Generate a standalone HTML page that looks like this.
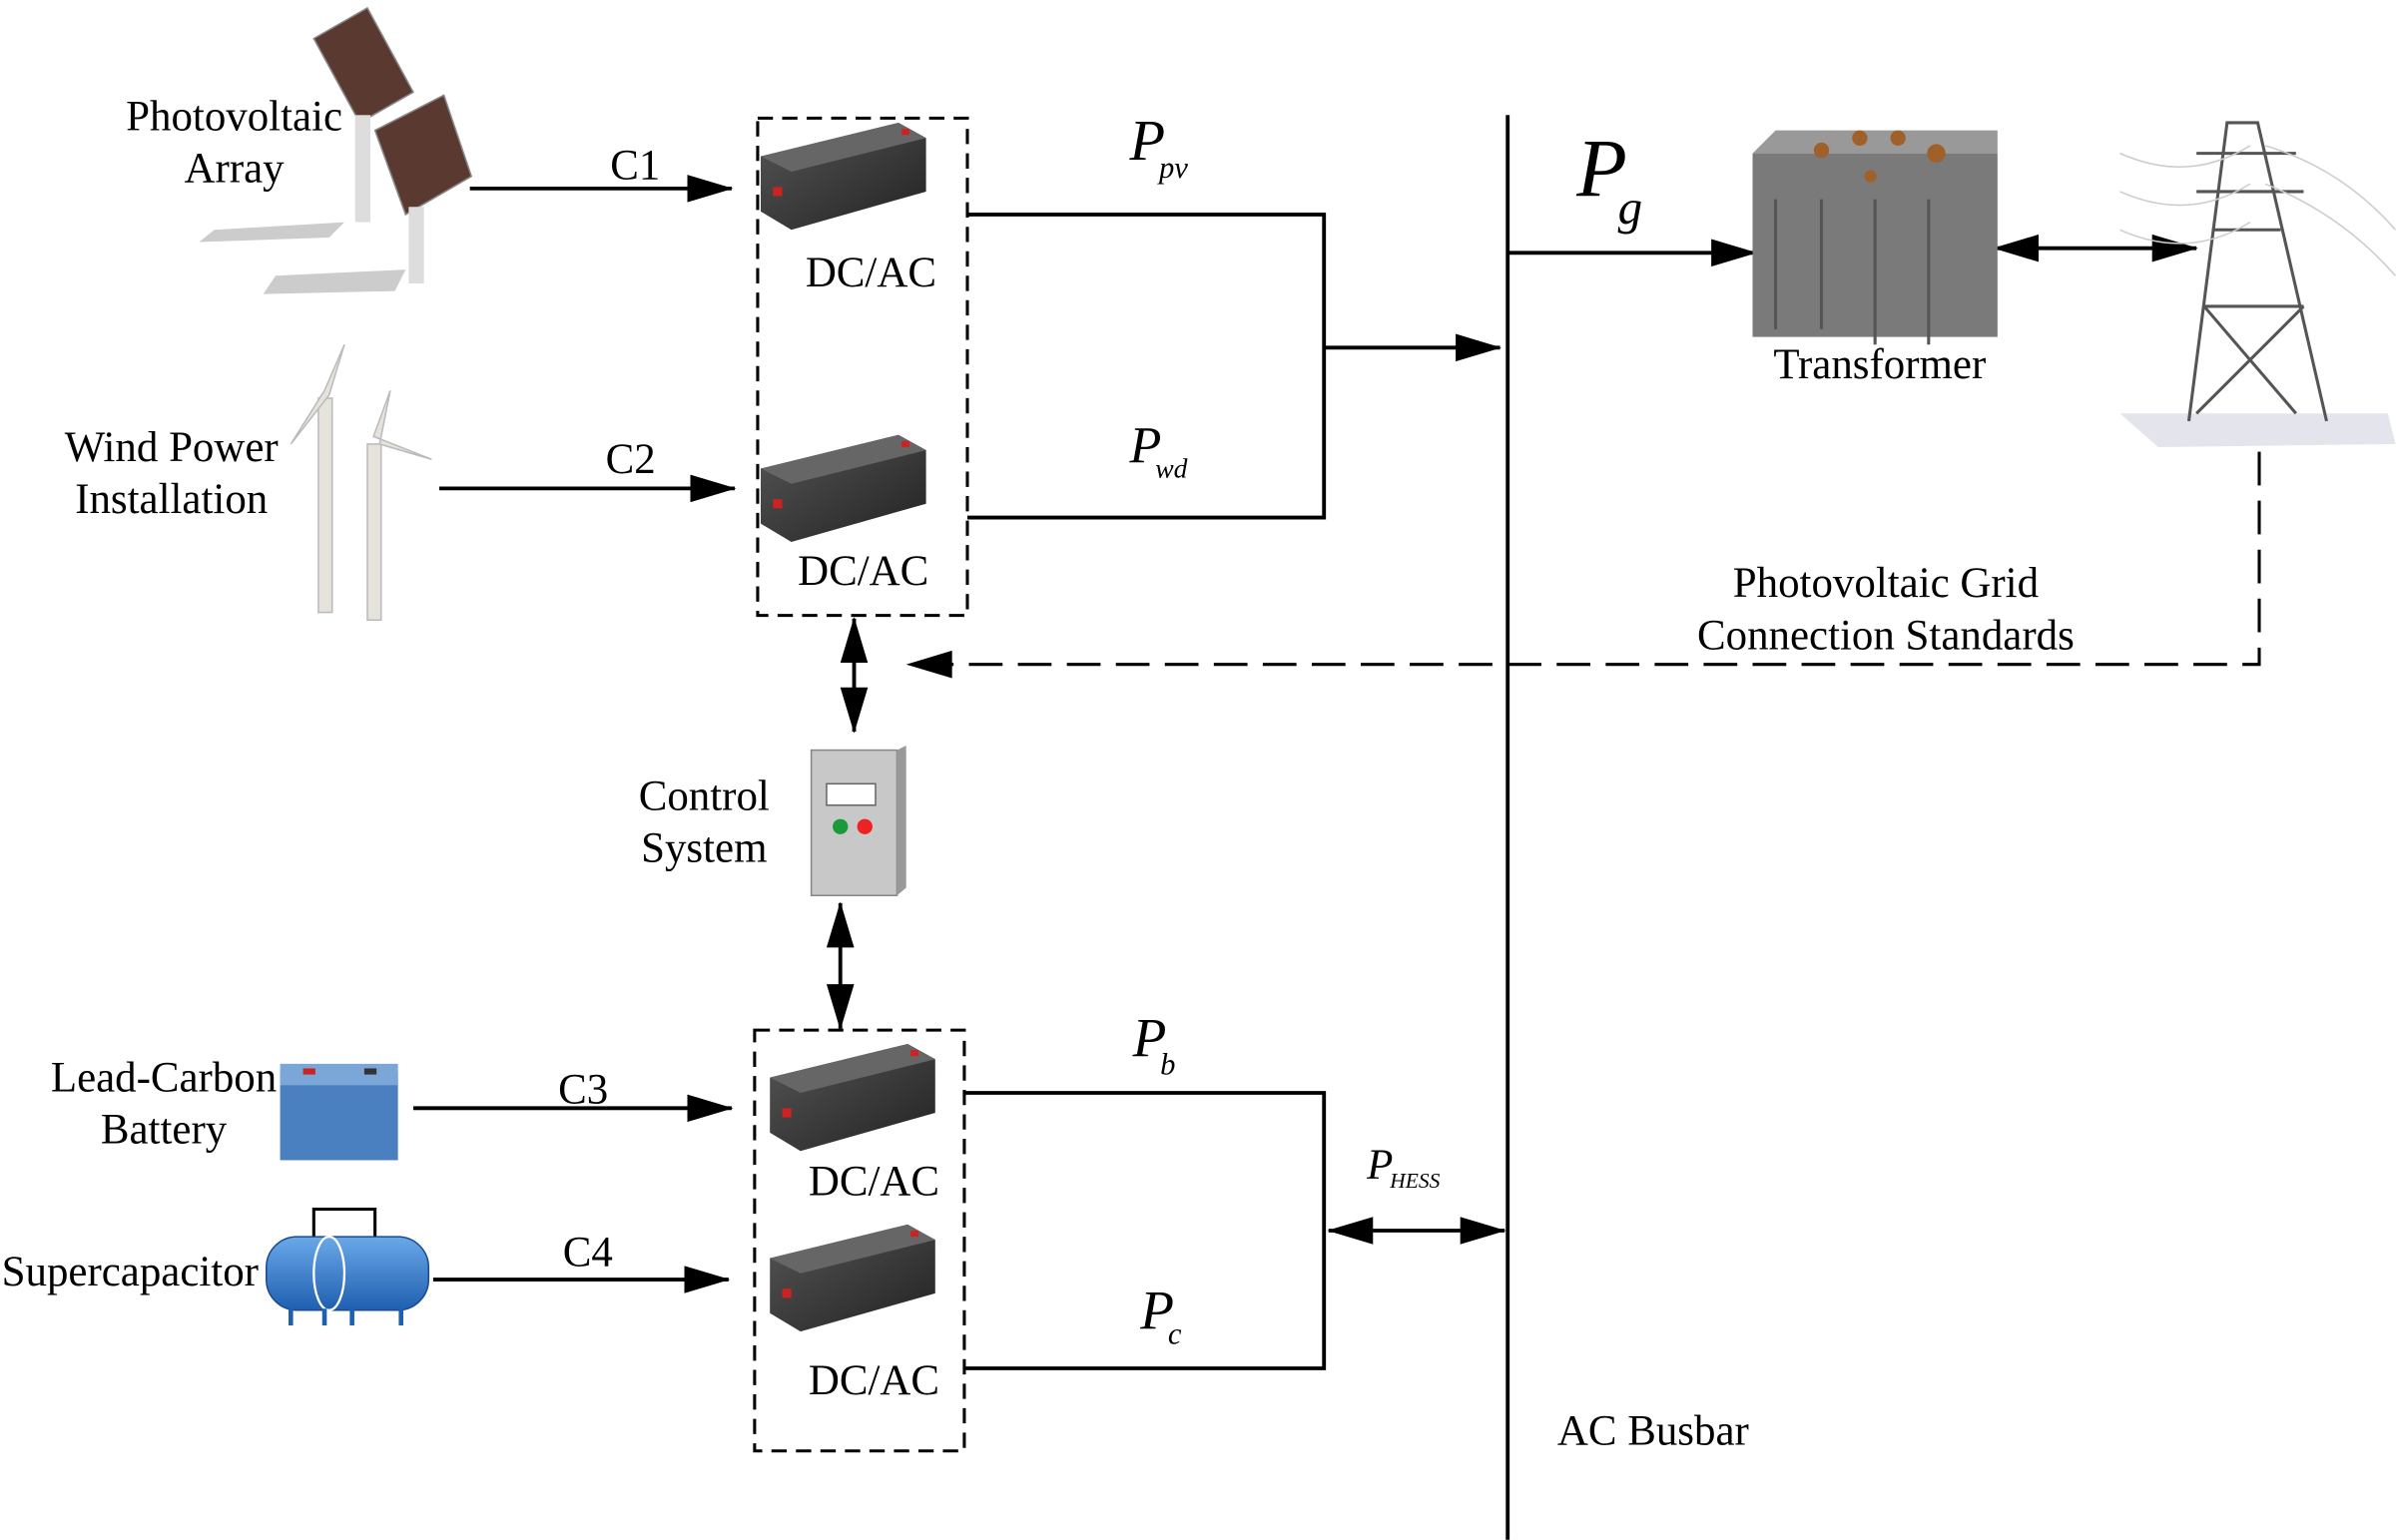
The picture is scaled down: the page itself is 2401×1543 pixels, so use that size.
<!DOCTYPE html>
<html><head><meta charset="utf-8"><style>
html,body{margin:0;padding:0;background:#fff;}
svg{display:block;}
text{font-family:"Liberation Serif",serif;fill:#000;}
</style></head><body>
<svg width="2401" height="1543" viewBox="0 0 1566 1006" xmlns="http://www.w3.org/2000/svg">
<defs>
<marker id="A" markerWidth="30" markerHeight="18" refX="29" refY="9" orient="auto-start-reverse" markerUnits="userSpaceOnUse"><path d="M0,0 L30,9 L0,18 z" fill="#000"/></marker>
<linearGradient id="inv" x1="0" y1="0" x2="1" y2="1"><stop offset="0" stop-color="#555"/><stop offset="1" stop-color="#222"/></linearGradient>
<linearGradient id="cyl" x1="0" y1="0" x2="0" y2="1"><stop offset="0" stop-color="#6aa8e8"/><stop offset="1" stop-color="#1f5fb0"/></linearGradient>
<g id="invg"><path d="M0,22 L90,0 L108,10 L108,45 L20,70 L0,58 z" fill="url(#inv)"/><path d="M0,22 L90,0 L108,10 L20,32 z" fill="#666"/><rect x="8" y="42" width="6" height="6" fill="#c22"/><rect x="92" y="4" width="5" height="4" fill="#c22"/></g>
</defs>
<g stroke="#000" stroke-width="2.5" fill="none">
<line x1="985" y1="75" x2="985" y2="1006"/>
<rect x="495" y="77" width="137" height="325" stroke-dasharray="10,6" stroke-width="2"/>
<rect x="493" y="673" width="137" height="275" stroke-dasharray="10,6" stroke-width="2"/>
<polyline points="632,140 865,140 865,338 632,338"/>
<polyline points="630,714 865,714 865,894 630,894"/>
<line x1="307" y1="123" x2="478" y2="123" marker-end="url(#A)"/>
<line x1="287" y1="319" x2="480" y2="319" marker-end="url(#A)"/>
<line x1="270" y1="724" x2="478" y2="724" marker-end="url(#A)"/>
<line x1="283" y1="836" x2="476" y2="836" marker-end="url(#A)"/>
<line x1="865" y1="227" x2="980" y2="227" marker-end="url(#A)"/>
<line x1="868" y1="804" x2="983" y2="804" marker-start="url(#A)" marker-end="url(#A)"/>
<line x1="985" y1="165" x2="1147" y2="165" marker-end="url(#A)"/>
<line x1="1303" y1="162" x2="1435" y2="162" marker-start="url(#A)" marker-end="url(#A)"/>
<line x1="558" y1="404" x2="558" y2="478" marker-start="url(#A)" marker-end="url(#A)"/>
<line x1="549" y1="590" x2="549" y2="672" marker-start="url(#A)" marker-end="url(#A)"/>
<polyline points="1476,295 1476,434 598,434" stroke-dasharray="22,10" stroke-width="2"/>
</g>
<path d="M592,434 L622,425 L622,443 z" fill="#000"/>
<use href="#invg" x="497" y="80"/>
<use href="#invg" x="497" y="284"/>
<use href="#invg" x="503" y="682"/>
<use href="#invg" x="503" y="800"/>
<g><path d="M205,25 L240,5 L270,60 L235,80 z" fill="#5a3a30" stroke="#888"/><path d="M245,85 L290,62 L308,115 L265,140 z" fill="#5a3a30" stroke="#888"/>
<rect x="232" y="75" width="10" height="70" fill="#ddd"/><rect x="267" y="135" width="10" height="50" fill="#ddd"/>
<path d="M140,150 L225,145 L215,155 L130,158z" fill="#ccc"/><path d="M180,180 L265,176 L258,190 L172,192z" fill="#ccc"/></g>
<g fill="#e6e2dc" stroke="#bbb"><rect x="208" y="260" width="9" height="140"/><rect x="240" y="290" width="9" height="115"/>
<path d="M212,255 L225,225 L215,258 L190,290z" /><path d="M244,285 L255,255 L248,290 L282,300z"/></g>
<rect x="183" y="700" width="77" height="58" fill="#4a7fc0"/><rect x="183" y="695" width="77" height="14" fill="#7aa6d8"/><rect x="198" y="698" width="8" height="4" fill="#c22"/><rect x="238" y="698" width="8" height="4" fill="#333"/>
<rect x="205" y="790" width="40" height="22" fill="none" stroke="#000" stroke-width="2"/>
<rect x="174" y="808" width="106" height="48" rx="20" fill="url(#cyl)" stroke="#1a4a90"/>
<ellipse cx="215" cy="832" rx="10" ry="24" fill="none" stroke="#fff" stroke-width="1.5"/>
<g stroke="#1f5fb0" stroke-width="3"><line x1="190" y1="855" x2="190" y2="866"/><line x1="212" y1="855" x2="212" y2="866"/><line x1="230" y1="855" x2="230" y2="866"/><line x1="262" y1="855" x2="262" y2="866"/></g>
<rect x="530" y="490" width="56" height="95" fill="#c8c8c8" stroke="#888"/><path d="M586,490 L592,487 L592,580 L586,585z" fill="#999"/>
<rect x="540" y="512" width="32" height="14" fill="#fff" stroke="#666"/>
<circle cx="549" cy="540" r="5" fill="#1a9a3a"/><circle cx="565" cy="540" r="5" fill="#e22"/>
<rect x="1145" y="100" width="160" height="120" fill="#7a7a7a"/><path d="M1145,100 L1160,85 L1305,85 L1305,100z" fill="#999"/>
<g fill="#a0602a"><circle cx="1190" cy="98" r="5"/><circle cx="1215" cy="90" r="5"/><circle cx="1240" cy="90" r="5"/><circle cx="1265" cy="100" r="6"/><circle cx="1222" cy="115" r="4"/></g>
<g stroke="#555" stroke-width="2"><line x1="1160" y1="130" x2="1160" y2="215"/><line x1="1190" y1="130" x2="1190" y2="215"/><line x1="1225" y1="130" x2="1225" y2="225"/><line x1="1260" y1="130" x2="1260" y2="225"/></g>
<path d="M1385,270 L1560,270 L1565,290 L1410,292z" fill="#e4e4ec"/>
<g stroke="#555" stroke-width="2" fill="none"><path d="M1430,275 L1455,80 L1475,80 L1520,275"/><path d="M1440,200 L1505,200 M1445,150 L1490,150 M1440,200 L1500,270 M1505,200 L1435,270 M1435,100 L1500,100 M1435,125 L1505,125"/></g>
<g stroke="#ccc" stroke-width="1" fill="none"><path d="M1385,100 Q1430,120 1470,95 M1385,125 Q1430,145 1470,120 M1385,150 Q1430,170 1470,145 M1480,95 Q1530,110 1565,150 M1480,120 Q1530,140 1565,180"/></g>
<g font-size="28" text-anchor="middle">
<text x="153" y="85">Photovoltaic</text><text x="153" y="119">Array</text>
<text x="112" y="301">Wind Power</text><text x="112" y="335">Installation</text>
<text x="107" y="713">Lead-Carbon</text><text x="107" y="747">Battery</text>
<text x="85" y="840">Supercapacitor</text>
<text x="460" y="529">Control</text><text x="460" y="563">System</text>
<text x="415" y="117">C1</text><text x="412" y="309">C2</text><text x="381" y="721">C3</text><text x="384" y="827">C4</text>
<text x="569" y="187">DC/AC</text><text x="564" y="382">DC/AC</text><text x="571" y="781">DC/AC</text><text x="571" y="911">DC/AC</text>
<text x="1228" y="247">Transformer</text>
<text x="1232" y="390">Photovoltaic Grid</text><text x="1232" y="424">Connection Standards</text>
<text x="1080" y="944">AC Busbar</text>
</g>
<g font-style="italic">
<text x="738" y="104" font-size="38">P<tspan font-size="20" dx="-4" dy="12">pv</tspan></text>
<text x="738" y="302" font-size="34">P<tspan font-size="18" dx="-4" dy="10">wd</tspan></text>
<text x="740" y="690" font-size="36">P<tspan font-size="20" dx="-4" dy="12">b</tspan></text>
<text x="745" y="868" font-size="36">P<tspan font-size="20" dx="-4" dy="10">c</tspan></text>
<text x="893" y="770" font-size="28">P<tspan font-size="14" dx="-2" dy="6">HESS</tspan></text>
<text x="1030" y="128" font-size="54">P<tspan font-size="32" dx="-6" dy="18">g</tspan></text>
</g>
</svg>
</body></html>
